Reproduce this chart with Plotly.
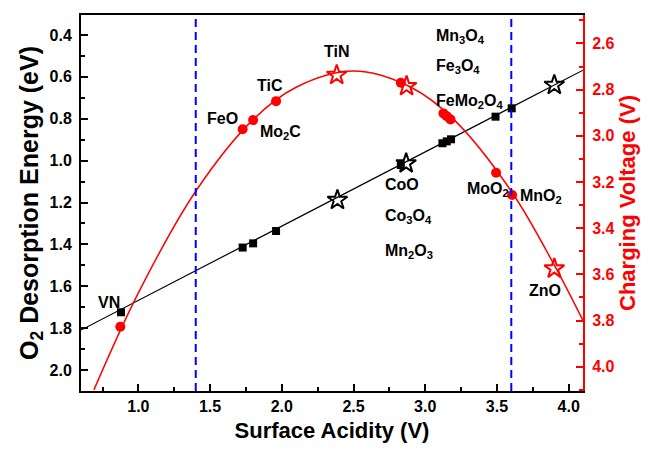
import plotly.graph_objects as go

# ---- data ----
# O2 desorption energy (left axis) vs surface acidity
sq_x = [0.879, 1.727, 1.80, 1.96, 2.83, 3.12, 3.15, 3.18, 3.49, 3.603]
sq_y = [1.724, 1.415, 1.395, 1.336, 1.021, 0.917, 0.908, 0.898, 0.790, 0.750]
bstar_x = [2.388, 2.867, 3.90]
bstar_y = [1.188, 1.013, 0.639]
bline_x = [0.6, 4.1]
bline_y = [1.809, 0.568]

# Charging voltage (right axis)
circ_x = [0.874, 1.727, 1.80, 1.96, 2.83, 3.127, 3.15, 3.176, 3.494, 3.606]
circ_y = [3.827, 2.972, 2.932, 2.850, 2.770, 2.903, 2.915, 2.929, 3.160, 3.256]
rstar_x = [2.383, 2.87, 3.90]
rstar_y = [2.737, 2.785, 3.575]
rcurve_x = [0.69, 1.0, 1.4, 1.8, 2.1, 2.5, 2.9, 3.2, 3.6, 3.9, 4.1]
rcurve_y = [4.10, 3.68, 3.24, 2.93, 2.79, 2.72, 2.79, 2.93, 3.24, 3.56, 3.80]

vlines = [1.4, 3.6]

# labels: text, x, y (left-axis units), anchor
lab_text = ["VN", "FeO", "TiC", "Mo<sub>2</sub>C", "TiN",
            "Mn<sub>3</sub>O<sub>4</sub>", "Fe<sub>3</sub>O<sub>4</sub>", "FeMo<sub>2</sub>O<sub>4</sub>",
            "CoO", "Co<sub>3</sub>O<sub>4</sub>", "Mn<sub>2</sub>O<sub>3</sub>",
            "MoO<sub>2</sub>", "MnO<sub>2</sub>", "ZnO"]
lab_x = [0.793, 1.588, 1.920, 1.837, 2.38,
         3.064, 3.064, 3.064,
         2.704, 2.704, 2.704,
         3.28, 3.645, 3.838]
lab_y = [1.678, 0.798, 0.639, 0.865, 0.481,
         0.405, 0.549, 0.716,
         1.113, 1.266, 1.434,
         1.139, 1.171, 1.618]
lab_anchor = ["center", "center", "center", "left", "center",
              "left", "left", "left",
              "left", "left", "left",
              "left", "left", "center"]

FONT = "Liberation Sans"

fig = go.Figure()
fig.add_trace(go.Scatter(x=bline_x, y=bline_y, mode="lines",
                         line=dict(color="black", width=1.2), showlegend=False))
fig.add_trace(go.Scatter(x=sq_x, y=sq_y, mode="markers",
                         marker=dict(symbol="square", size=8, color="black"), showlegend=False))
fig.add_trace(go.Scatter(x=bstar_x, y=bstar_y, mode="markers",
                         marker=dict(symbol="star-open", size=15, color="black",
                                     line=dict(width=2, color="black")), showlegend=False))
fig.add_trace(go.Scatter(x=rcurve_x, y=rcurve_y, mode="lines", yaxis="y2",
                         line=dict(color="red", width=1.5, shape="spline"), showlegend=False))
fig.add_trace(go.Scatter(x=circ_x, y=circ_y, mode="markers", yaxis="y2",
                         marker=dict(symbol="circle", size=10, color="red"), showlegend=False))
fig.add_trace(go.Scatter(x=rstar_x, y=rstar_y, mode="markers", yaxis="y2",
                         marker=dict(symbol="star-open", size=15, color="red",
                                     line=dict(width=2, color="red")), showlegend=False))

for v in vlines:
    fig.add_shape(type="line", x0=v, x1=v, xref="x", y0=0, y1=1, yref="paper",
                  line=dict(color="blue", width=2, dash="8px,5px"))

for t, x, y, a in zip(lab_text, lab_x, lab_y, lab_anchor):
    fig.add_annotation(x=x, y=y, xref="x", yref="y", text="<b>" + t + "</b>",
                       showarrow=False, xanchor=a, yanchor="middle",
                       font=dict(family=FONT, size=16, color="black"))

fig.update_layout(
    width=654, height=451,
    margin=dict(l=81, r=71, t=15, b=60),
    plot_bgcolor="white", paper_bgcolor="white",
    font=dict(family=FONT, size=16, color="black"),
    xaxis=dict(range=[0.6, 4.1], tick0=1.0, dtick=0.5, ticks="inside", ticklen=7,
               tickwidth=2, tickcolor="black", showline=True, linewidth=2, linecolor="black",
               mirror=True, showgrid=False, zeroline=False, tickformat=".1f",
               tickfont=dict(family=FONT, size=16, color="black", weight="bold"),
               minor=dict(dtick=0.25, ticks="inside", ticklen=4, tickwidth=2, tickcolor="black"),
               title=dict(text="<b>Surface Acidity (V)</b>", font=dict(family=FONT, size=22),
                          standoff=8)),
    yaxis=dict(range=[2.1, 0.3045], tick0=0.4, dtick=0.2, ticks="inside", ticklen=7,
               tickwidth=2, tickcolor="black", showline=True, linewidth=2, linecolor="black",
               showgrid=False, zeroline=False, tickformat=".1f", ticklabelstandoff=4,
               tickfont=dict(family=FONT, size=16, color="black", weight="bold"),
               minor=dict(dtick=0.1, ticks="inside", ticklen=4, tickwidth=2, tickcolor="black"),
               title=dict(text="<b>O<sub>2</sub> Desorption Energy (eV)</b>",
                          font=dict(family=FONT, size=25), standoff=4)),
    yaxis2=dict(range=[4.105, 2.477], tick0=2.6, dtick=0.2, ticks="inside", ticklen=7,
                tickwidth=2, tickcolor="red", showline=True, linewidth=2, linecolor="red",
                overlaying="y", side="right", showgrid=False, zeroline=False,
                tickformat=".1f", ticklabelstandoff=4,
                tickfont=dict(family=FONT, size=16, color="red", weight="bold"),
                minor=dict(dtick=0.1, ticks="inside", ticklen=4, tickwidth=2, tickcolor="red"),
                title=dict(text="<b>Charging Voltage (V)</b>",
                           font=dict(family=FONT, size=22, color="red"), standoff=6)),
)

fig.write_html("out.html")
